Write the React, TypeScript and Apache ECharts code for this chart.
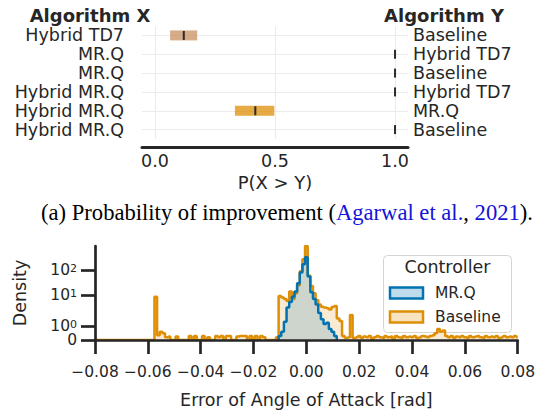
import React, { useEffect, useRef } from 'react';
import * as echarts from 'echarts';

// ---------- Panel (a): probability of improvement ----------
const ALGO_X = ['Hybrid TD7', 'MR.Q', 'MR.Q', 'Hybrid MR.Q', 'Hybrid MR.Q', 'Hybrid MR.Q'];
const ALGO_Y = ['Baseline', 'Hybrid TD7', 'Baseline', 'Hybrid TD7', 'MR.Q', 'Baseline'];
const CI_LOW = [0.063, 1, 1, 1, 0.333, 1];
const CI_HIGH = [0.176, 1, 1, 1, 0.497, 1];
const POI_MEDIAN = [0.12, 1, 1, 1, 0.418, 1];
const ROW_COLORS = ['#ca9161', '#0173b2', '#0173b2', '#de8f05', '#de8f05', '#de8f05'];
const P_TICKS = [0, 0.5, 1];

// ---------- Panel (b): density histogram ----------
const BIN_WIDTH = 0.001;
const BASELINE_START = -0.08;
const BASELINE_DENSITY = [
  0, 0, 0, 0, 0, 0, 0, 0, 0, 0,
  0, 0, 0, 0, 0, 0, 0, 0, 0, 0,
  0, 0, 0, 9, 0.35, 0.6, 0.5, 0.2, 0.25, 0,
  0, 0.25, 0, 0, 0, 0, 0.3, 0, 0.3, 0,
  0, 0.3, 0, 0.2, 0, 0, 0.3, 0.2, 0.3, 0,
  0.3, 0.3, 0, 0, 0.25, 0.3, 0.3, 0.3, 0, 0.3,
  0, 0.3, 0, 0.3, 0.2, 0, 0, 0, 0, 0.2,
  9.5, 8.5, 7.5, 6.5, 14, 7.5, 12, 25, 89, 265,
  900, 60, 23, 12, 7, 5, 4.3, 4, 3.8, 3.5,
  4.2, 4.5, 1.8, 1.5, 0.3, 0.15, 0.2, 2.3, 0.15, 0.2,
  0.3, 0.15, 0.25, 0.2, 0.3, 0.1, 0.2, 0.3, 0.2, 0.15,
  0.3, 0.2, 0.25, 0.1, 0.3, 0.2, 0.15, 0.3, 0.2, 0.25,
  0.2, 0.3, 0.15, 0.2, 0.3, 0.25, 0.2, 0.3, 0.35, 0.5,
  0.8, 0.6, 0.7, 0.3, 0.2, 0.3, 0.15, 0.25, 0.2, 0.3,
  0.2, 0.15, 0.3, 0.2, 0.25, 0.3, 0.2, 0.15, 0.3, 0.2,
  0.25, 0.2, 0.3, 0.15, 0.2, 0.3, 0.2, 0.25, 0.2, 0.3, 0.2,
];
const MRQ_START = -0.011;
const MRQ_DENSITY = [
  0, 0.3, 0.6, 1.4, 4, 6, 9, 14, 30, 80, 170, 320,
  55, 13, 7.5, 5, 2.7, 1.7, 1.2, 1.3, 0.8, 0.6, 0.3, 0,
];
const DENSITY_TICKS = [0, 1, 10, 100];
const DENSITY_TOP = 900;

const FONT = 'DejaVu Sans';
const INK = '#262626';
const BLUE = '#0173b2';
const ORANGE = '#de8f05';

// symlog-like scale used by the density axis
function T(v: number): number {
  if (v <= 1) return 13.7 * v;
  if (v <= 10) return 13.7 + 31.3 * Math.log10(v);
  return 45 + 25.3 * Math.log10(v / 10);
}

function histPoints(start: number, vals: number[]) {
  return vals.map((v, i) => [+(start + i * BIN_WIDTH).toFixed(4), T(v)]);
}

function densityLabel(d: number) {
  return d === 0 ? '{b|0}' : '{b|10}{s|' + Math.round(Math.log10(d)) + '}';
}

const RICH = {
  b: { fontSize: 15.5, color: INK, fontFamily: FONT, lineHeight: 14 },
  s: { fontSize: 11, color: INK, fontFamily: FONT, verticalAlign: 'top', lineHeight: 10, padding: [0, 0, 8, 0] },
};

export default function App() {
  const ref = useRef<HTMLDivElement>(null);
  useEffect(() => {
    document.body.style.margin = '0';
    const chart = echarts.init(ref.current!, null, { renderer: 'svg' });
    const tickPos = DENSITY_TICKS.map(T);
    const nearestTick = (v: number) => {
      let best = 0;
      tickPos.forEach((p, i) => { if (Math.abs(p - v) < Math.abs(tickPos[best] - v)) best = i; });
      return DENSITY_TICKS[best];
    };
    const labelPosA = tickPos.filter((_p, i) => i !== 1);
    const labelPosB = tickPos.filter((_p, i) => i === 1);
    const topLabel = { fontSize: 17.5, lineHeight: 17, color: INK, fontFamily: FONT, interval: 0 };
    const option: any = {
      animation: false,
      backgroundColor: '#ffffff',
      textStyle: { fontFamily: FONT },
      grid: [
        { left: 142, right: 130, top: 26, bottom: 271 },
        { left: 95, right: 18, top: 246, bottom: 69 },
      ],
      xAxis: [
        {
          gridIndex: 0, type: 'value', min: -0.054, max: 1.054, offset: 8,
          axisLine: { show: true, onZero: false, lineStyle: { color: INK, width: 3 } },
          axisTick: { show: false },
          splitLine: { show: false },
          axisLabel: {
            customValues: P_TICKS, formatter: (v: number) => v.toFixed(1),
            fontSize: 17.5, color: INK, fontFamily: FONT, margin: 5,
          },
          name: 'P(X > Y)', nameLocation: 'middle', nameGap: 26,
          nameTextStyle: { fontSize: 18, color: INK, fontFamily: FONT },
        },
        {
          gridIndex: 1, type: 'value', min: -0.08, max: 0.08, interval: 0.02, z: 10,
          axisLine: { show: true, onZero: false, lineStyle: { color: INK, width: 2.7 } },
          axisTick: { show: true, length: 14, lineStyle: { color: INK, width: 2.7 } },
          splitLine: { show: false },
          axisLabel: {
            formatter: (v: number) => (Math.abs(v) < 1e-9 ? '0.00' : (v < 0 ? '\u2212' : '') + Math.abs(v).toFixed(2)),
            fontSize: 15.5, color: INK, fontFamily: FONT, margin: 24,
          },
          name: 'Error of Angle of Attack [rad]', nameLocation: 'middle', nameGap: 51,
          nameTextStyle: { fontSize: 17.5, color: INK, fontFamily: FONT },
        },
      ],
      yAxis: [
        {
          gridIndex: 0, type: 'category', data: ALGO_X, inverse: true, position: 'left',
          axisLine: { show: false }, axisTick: { show: false }, splitLine: { show: false },
          axisLabel: { ...topLabel, formatter: (_v: any, i: number) => ALGO_X[i], margin: 18 },
        },
        {
          gridIndex: 0, type: 'category', data: ALGO_Y, inverse: true, position: 'right',
          axisLine: { show: false }, axisTick: { show: false }, splitLine: { show: false },
          axisLabel: { ...topLabel, formatter: (_v: any, i: number) => ALGO_Y[i], margin: 5 },
        },
        {
          gridIndex: 1, type: 'value', min: 0, max: T(DENSITY_TOP), z: 10, position: 'left',
          axisLine: { show: true, onZero: false, lineStyle: { color: INK, width: 2.7 } },
          axisTick: { show: true, length: 14, customValues: tickPos, lineStyle: { color: INK, width: 2.7 } },
          splitLine: { show: false },
          axisLabel: {
            customValues: labelPosA, showMinLabel: true, hideOverlap: false,
            formatter: (v: number) => densityLabel(nearestTick(v)),
            margin: 18, rich: RICH,
          },
          name: 'Density', nameLocation: 'middle', nameGap: 66,
          nameTextStyle: { fontSize: 17.5, color: INK, fontFamily: FONT },
        },
        {
          gridIndex: 1, type: 'value', min: 0, max: T(DENSITY_TOP), z: 10, position: 'left', offset: 0,
          axisLine: { show: false, onZero: false }, axisTick: { show: false }, splitLine: { show: false },
          axisLabel: {
            customValues: labelPosB, showMinLabel: true, showMaxLabel: true, hideOverlap: false,
            formatter: (v: number) => densityLabel(nearestTick(v)),
            margin: 18, rich: RICH,
          },
        },
      ],
      series: [
        {
          type: 'line', xAxisIndex: 0, yAxisIndex: 0, data: [], z: 1, silent: true,
          markLine: {
            z: 0, symbol: 'none', silent: true, label: { show: false },
            lineStyle: { color: '#ebebeb', width: 1, type: 'solid' },
            data: [
              ...P_TICKS.map((p) => ({ xAxis: p })),
              ...ALGO_X.map((_n, i) => ({ yAxis: i })),
            ],
          },
        },
        {
          type: 'custom', xAxisIndex: 0, yAxisIndex: 0, z: 3,
          data: ALGO_X.map((_n, i) => [i, CI_LOW[i], CI_HIGH[i], POI_MEDIAN[i]]),
          encode: { x: [1, 2, 3], y: 0 },
          renderItem: (params: any, api: any) => {
            const row = api.value(0);
            const p0 = api.coord([api.value(1), row]);
            const p1 = api.coord([api.value(2), row]);
            const pm = api.coord([api.value(3), row]);
            const h = 10;
            return {
              type: 'group',
              children: [
                {
                  type: 'rect',
                  shape: { x: p0[0], y: p0[1] - h / 2, width: p1[0] - p0[0], height: h },
                  style: { fill: ROW_COLORS[params.dataIndex], opacity: 0.75 },
                },
                {
                  type: 'rect',
                  shape: { x: pm[0] - 1, y: pm[1] - h / 2 + 0.5, width: 2, height: h - 1 },
                  style: { fill: '#2a2a2a' },
                },
              ],
            };
          },
        },
        {
          name: 'Baseline', type: 'line', xAxisIndex: 1, yAxisIndex: 2, z: 2,
          data: histPoints(BASELINE_START, BASELINE_DENSITY),
          step: 'middle', showSymbol: false, symbol: 'none',
          lineStyle: { color: ORANGE, width: 2.5 },
          areaStyle: { color: 'rgba(222,143,5,0.25)', origin: 'start' },
        },
        {
          name: 'MR.Q', type: 'line', xAxisIndex: 1, yAxisIndex: 2, z: 3,
          data: histPoints(MRQ_START, MRQ_DENSITY),
          step: 'middle', showSymbol: false, symbol: 'none',
          lineStyle: { color: BLUE, width: 2.5 },
          areaStyle: { color: 'rgba(1,115,178,0.25)', origin: 'start' },
        },
      ],
      graphic: [
        { type: 'text', x: 90, y: 15, z: 100, style: { text: 'Algorithm X', fontFamily: FONT, fontWeight: 'bold', fontSize: 18, fill: INK, align: 'center', verticalAlign: 'middle' } },
        { type: 'text', x: 444, y: 15, z: 100, style: { text: 'Algorithm Y', fontFamily: FONT, fontWeight: 'bold', fontSize: 18, fill: INK, align: 'center', verticalAlign: 'middle' } },
        {
          type: 'text', x: 287, y: 212, z: 100,
          style: {
            text: '(a) Probability of improvement ({l|Agarwal et al.}, {l|2021}).',
            fontFamily: 'Liberation Serif', fontSize: 22.6, fill: '#000000', align: 'center', verticalAlign: 'middle',
            rich: { l: { fontFamily: 'Liberation Serif', fontSize: 22.6, fill: '#1414d6' } },
          },
        },
        {
          type: 'group', z: 100,
          children: [
            { type: 'rect', shape: { x: 383.5, y: 255.5, width: 128, height: 77, r: 4 }, style: { fill: 'rgba(255,255,255,0.8)', stroke: '#d4d4d4', lineWidth: 1 } },
            { type: 'text', x: 447.5, y: 267, style: { text: 'Controller', fontFamily: FONT, fontSize: 17.5, fill: INK, align: 'center', verticalAlign: 'middle' } },
            { type: 'rect', shape: { x: 390, y: 287.5, width: 33, height: 11 }, style: { fill: 'rgba(1,115,178,0.25)', stroke: BLUE, lineWidth: 2.5 } },
            { type: 'text', x: 435, y: 293, style: { text: 'MR.Q', fontFamily: FONT, fontSize: 15.5, fill: INK, align: 'left', verticalAlign: 'middle' } },
            { type: 'rect', shape: { x: 390, y: 311.5, width: 33, height: 11 }, style: { fill: 'rgba(222,143,5,0.25)', stroke: ORANGE, lineWidth: 2.5 } },
            { type: 'text', x: 435, y: 317, style: { text: 'Baseline', fontFamily: FONT, fontSize: 15.5, fill: INK, align: 'left', verticalAlign: 'middle' } },
          ],
        },
      ],
    };
    chart.setOption(option);
    return () => chart.dispose();
  }, []);
  return <div ref={ref} style={{ position: 'fixed', left: 0, top: 0, width: 538, height: 410 }} />;
}
